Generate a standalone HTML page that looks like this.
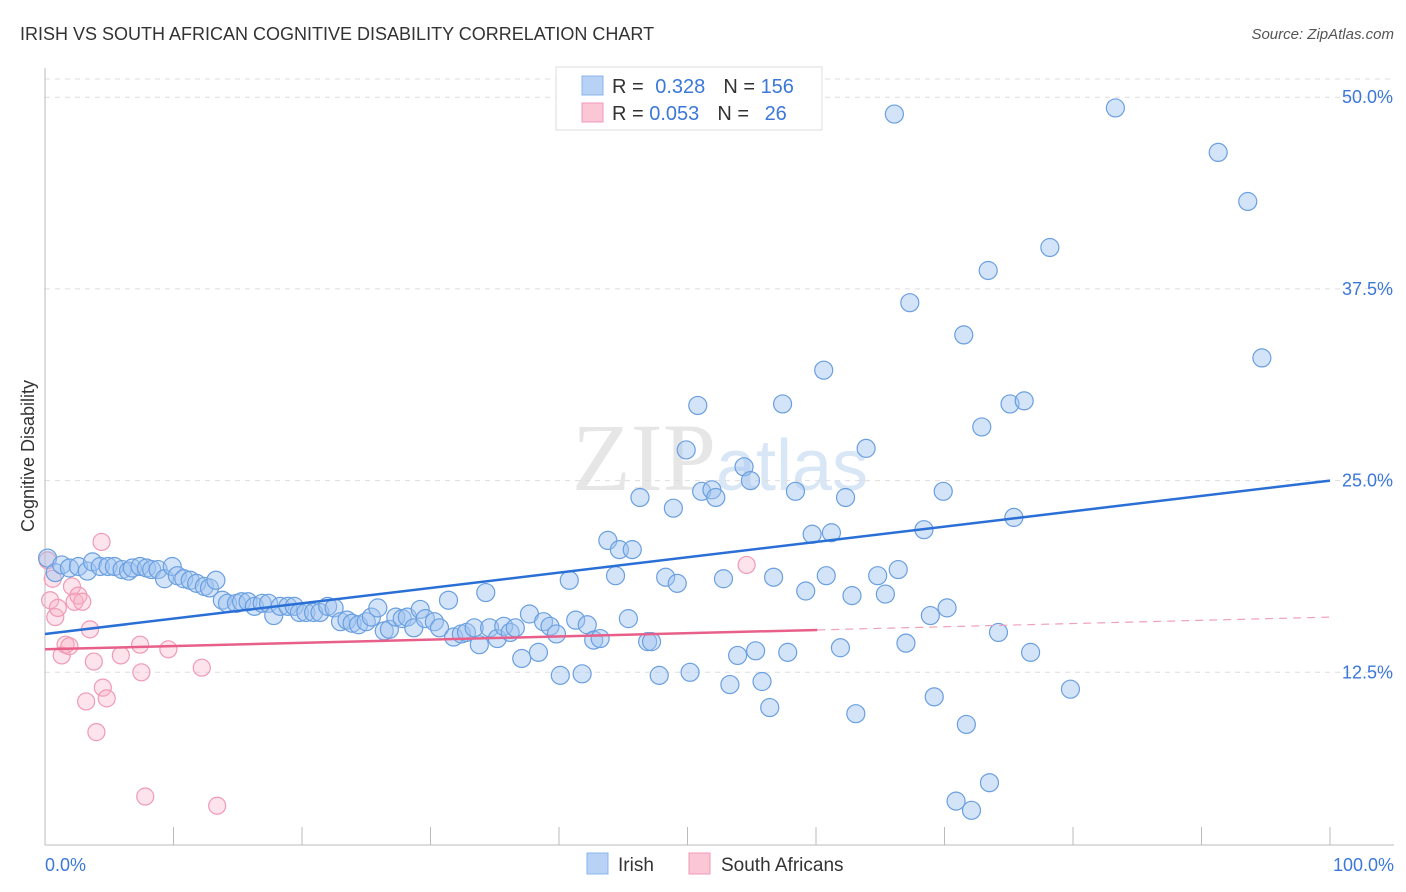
<!DOCTYPE html>
<html><head><meta charset="utf-8"><style>
body{margin:0;background:#fff;font-family:"Liberation Sans",sans-serif;}
svg{display:block}
</style></head><body>
<svg id="chart" width="1406" height="892">
<text x="20" y="40" font-size="18" fill="#333">IRISH VS SOUTH AFRICAN COGNITIVE DISABILITY CORRELATION CHART</text>
<text x="1394" y="39" font-size="15" fill="#555" text-anchor="end" font-style="italic">Source: ZipAtlas.com</text>
<text x="720" y="490" font-size="96" fill="#e6e6e6" text-anchor="middle" font-family="Liberation Serif,serif">ZIP<tspan fill="#d8e6f6" font-family="Liberation Sans,sans-serif" font-size="72">atlas</tspan></text>
<g id="grid"></g>
<g id="axes"></g>
<g id="marks"></g>
<text transform="translate(34,456) rotate(-90)" font-size="18" fill="#333" text-anchor="middle">Cognitive Disability</text>
<g>
<rect x="556" y="67" width="266" height="63" fill="#fff" stroke="#ddd"/>
<rect x="582" y="76" width="21" height="19" fill="#b8d2f6" stroke="#8ab4ec"/>
<rect x="582" y="103" width="21" height="19" fill="#fbc6d6" stroke="#f09ab4"/>
<text x="612" y="93" font-size="20" fill="#333">R = <tspan fill="#3b78d8" dx="6">0.328</tspan><tspan dx="18" fill="#333">N = </tspan><tspan fill="#3b78d8">156</tspan></text>
<text x="612" y="120" font-size="20" fill="#333">R = <tspan fill="#3b78d8">0.053</tspan><tspan dx="18" fill="#333">N = </tspan><tspan fill="#3b78d8" dx="10">26</tspan></text>
</g>
<g>
<rect x="587" y="853" width="21" height="21" fill="#b8d2f6" stroke="#8ab4ec"/>
<text x="618" y="871" font-size="19" fill="#333">Irish</text>
<rect x="689" y="853" width="21" height="21" fill="#fbc6d6" stroke="#f09ab4"/>
<text x="721" y="871" font-size="19" fill="#333">South Africans</text>
</g>
</svg>
<script>
const yTicks=[12.5,25,37.5,50];
const yTickLabels=["12.5%","25.0%","37.5%","50.0%"];
const xTickLabels=["0.0%","100.0%"];
const irishX=[0.2,0.8,1.3,1.9,2.6,3.3,3.7,4.3,4.9,5.4,6.0,6.5,6.8,7.4,7.9,8.3,8.8,9.3,9.9,10.3,10.8,11.3,11.8,12.4,12.8,13.3,13.8,14.2,14.9,15.3,15.8,16.3,16.9,17.4,17.8,18.3,18.9,19.4,19.8,20.3,20.9,21.4,22.0,22.5,23.0,23.5,23.9,24.4,25.0,25.4,25.9,26.4,26.8,27.3,27.8,28.2,28.7,29.2,29.6,30.3,30.7,31.4,31.8,32.4,32.8,33.4,33.8,34.3,34.6,35.2,35.7,36.2,36.6,37.1,37.7,38.4,38.8,39.3,39.8,40.1,40.8,41.3,41.8,42.2,42.7,43.2,43.8,44.4,44.7,45.4,45.7,46.3,46.9,47.2,47.8,48.3,48.9,49.2,49.9,50.2,50.8,51.1,51.9,52.2,52.8,53.3,53.9,54.4,54.9,55.3,55.8,56.4,56.7,57.4,57.8,58.4,59.2,59.7,60.6,60.8,61.2,61.9,62.3,62.8,63.1,63.9,64.8,65.4,66.1,66.4,67.0,67.3,68.4,68.9,69.2,69.9,70.2,70.9,71.5,71.7,72.1,72.9,73.4,73.5,74.2,75.1,75.4,76.2,76.7,78.2,79.8,83.3,91.3,93.6,94.7];
const irishY=[19.95,19.0,19.5,19.3,19.4,19.1,19.7,19.4,19.4,19.4,19.2,19.1,19.3,19.4,19.3,19.2,19.2,18.6,19.4,18.8,18.6,18.5,18.3,18.1,18.0,18.5,17.2,17.0,17.0,17.1,17.1,16.8,17.0,17.0,16.2,16.8,16.8,16.8,16.4,16.4,16.4,16.4,16.8,16.7,15.8,15.9,15.7,15.6,15.8,16.1,16.7,15.2,15.3,16.1,16.0,16.1,15.4,16.6,16.0,15.8,15.4,17.2,14.8,15.0,15.1,15.4,14.3,17.7,15.4,14.7,15.5,15.1,15.4,13.4,16.3,13.8,15.8,15.5,15.0,12.3,18.5,15.9,12.4,15.6,14.6,14.7,21.1,18.8,20.5,16.0,20.5,23.9,14.5,14.5,12.3,18.7,23.2,18.3,27.0,12.5,29.9,24.3,24.4,23.9,18.6,11.7,13.6,25.9,25.0,13.9,11.9,10.2,18.7,30.0,13.8,24.3,17.8,21.5,32.2,18.8,21.6,14.1,23.9,17.5,9.8,27.1,18.8,17.6,48.9,19.2,14.4,36.6,21.8,16.2,10.9,24.3,16.7,4.1,34.5,9.1,3.5,28.5,38.7,5.3,15.1,30.0,22.6,30.2,13.8,40.2,11.4,49.3,46.4,43.2,33.0];
const saX=[0.2,0.6,0.4,0.8,1.0,1.3,1.6,1.9,2.1,2.3,2.6,2.9,3.2,3.5,3.8,4.0,4.4,4.5,4.8,5.9,7.4,7.5,7.8,9.6,12.2,13.4,54.6];
const saY=[19.8,18.6,17.2,16.1,16.7,13.6,14.3,14.2,18.1,17.1,17.5,17.1,10.6,15.3,13.2,8.6,21.0,11.5,10.8,13.6,14.3,12.5,4.4,14.0,12.8,3.8,19.5];
const irishTrend=[15.0,25.0];
const saTrend=[14.0,16.1];
const saSolidEnd=60.1;

const NS="http://www.w3.org/2000/svg";
const X0=45,X1=1330,Y0=864,PX_PER=191.7/12.5;
const xs=v=>X0+(X1-X0)*v/100;
const ys=v=>Y0-v*PX_PER;
function mk(t,a,p){const e=document.createElementNS(NS,t);for(const k in a)e.setAttribute(k,a[k]);p.appendChild(e);return e;}
const grid=document.getElementById('grid'),axes=document.getElementById('axes'),marks=document.getElementById('marks');
const topLine=mk('line',{x1:45,x2:1394,y1:79,y2:79,stroke:'#ddd','stroke-dasharray':'5,5'},grid);


yTicks.forEach((v,i)=>{
 const g=mk('line',{x1:45,x2:1394,y1:ys(v),y2:ys(v),stroke:'#ddd','stroke-dasharray':'5,5'},grid);
 
 
 const t=mk('text',{x:1393,y:ys(v)+6,'font-size':18,fill:'#3b78d8','text-anchor':'end'},axes);
 t.textContent=yTickLabels[i];
 
 
});
const ya=mk('line',{x1:45,x2:45,y1:68,y2:845,stroke:'#bbb'},axes);


const xa=mk('line',{x1:45,x2:1394,y1:845,y2:845,stroke:'#bbb'},axes);


for(let k=0;k<=10;k++){
 const tk=mk('line',{x1:xs(k*10),x2:xs(k*10),y1:827,y2:845,stroke:'#bbb'},axes);
 
 
}
[[0,'start',45],[1,'end',1394]].forEach(([i,a,x])=>{
 const t=mk('text',{x:x,y:871,'font-size':18,fill:'#3b78d8','text-anchor':a},axes);
 t.textContent=xTickLabels[i];
 
 
});
saX.forEach((v,i)=>{
 const c=mk('circle',{cx:xs(v),cy:ys(saY[i]),r:8.5,fill:'rgba(248,176,198,0.35)',stroke:'#f09ab4','stroke-width':1.2},marks);
 
 
});
irishX.forEach((v,i)=>{
 const c=mk('circle',{cx:xs(v),cy:ys(irishY[i]),r:9,fill:'rgba(160,196,240,0.45)',stroke:'#6a9fe0','stroke-width':1.2},marks);
 
 
});
const bl=mk('line',{x1:xs(0),y1:ys(irishTrend[0]),x2:xs(100),y2:ys(irishTrend[1]),stroke:'#2a6fd6','stroke-width':2.5},marks);


const sm=saTrend[0]+(saTrend[1]-saTrend[0])*saSolidEnd/100;
const pl=mk('line',{x1:xs(0),y1:ys(saTrend[0]),x2:xs(saSolidEnd),y2:ys(sm),stroke:'#e8608a','stroke-width':2.5},marks);


const pd=mk('line',{x1:xs(saSolidEnd),y1:ys(sm),x2:xs(100),y2:ys(saTrend[1]),stroke:'#f0a0b8','stroke-width':1.2,'stroke-dasharray':'8,6'},marks);


</script>
</body></html>
